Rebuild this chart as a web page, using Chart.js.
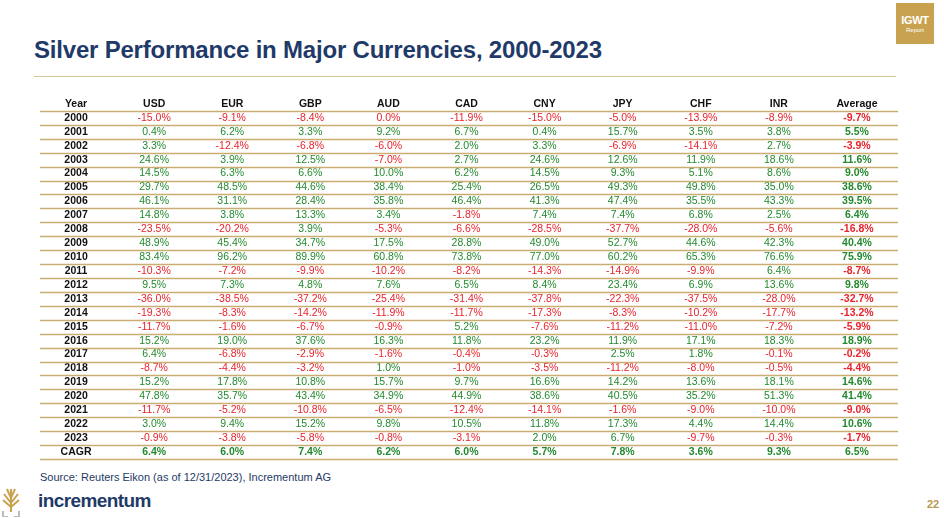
<!DOCTYPE html>
<html><head><meta charset="utf-8">
<script src="https://cdn.jsdelivr.net/npm/chart.js@4.4.1/dist/chart.umd.min.js"></script>
<style>
body{margin:0;width:944px;height:518px;background:#fff;font-family:"Liberation Sans",Arial,sans-serif;position:relative;overflow:hidden}
#title{position:absolute;left:34px;top:36px;font-size:24px;font-weight:bold;color:#1f3a68;letter-spacing:-0.2px}
#rule{position:absolute;left:34px;top:76px;width:862px;height:1px;background:#d8c49a}
#badge{position:absolute;left:896px;top:3px;width:38px;height:41px;background:#c9a24f;color:#fff;text-align:center}
#badge b{display:block;font-size:11px;margin-top:11px;letter-spacing:-0.3px}
#badge span{display:block;font-size:6px;margin-top:1px}
#src{position:absolute;left:40px;top:471px;font-size:11px;color:#1f3a68}
#brand{position:absolute;left:38px;top:490px;font-size:19px;font-weight:bold;color:#1f3a68;letter-spacing:-0.6px}
#page{position:absolute;left:927px;top:498px;font-size:11px;font-weight:bold;color:#b89a4e}
#tree{position:absolute;left:1px;top:488px;width:20px;height:29px}
#wrap{position:absolute;left:0;top:0;width:944px;height:518px}
</style></head><body>
<div id="title">Silver Performance in Major Currencies, 2000-2023</div>
<div id="rule"></div>
<div id="badge"><b>IGWT</b><span>Report</span></div>
<div id="src">Source: Reuters Eikon (as of 12/31/2023), Incrementum AG</div>
<svg id="tree" viewBox="0 0 20 29"><g stroke="#c9a24f" stroke-width="2" fill="none"><path d="M10 24V10M10 15L3 6M10 15L17 6M10 19L2 12M10 19L18 12M10 10L6 1M10 10L14 1M10 10V1"/></g><path d="M1 23h2v5h4v1H1zM17 23h2v6h-6v-1h4z" fill="#bbb"/></svg>
<div id="brand">incrementum</div>
<div id="page">22</div>
<div id="wrap"><canvas id="c"></canvas></div>
<script>
const columns = ['Year','USD','EUR','GBP','AUD','CAD','CNY','JPY','CHF','INR','Average'];
const rows = ['2000','2001','2002','2003','2004','2005','2006','2007','2008','2009','2010','2011','2012','2013','2014','2015','2016','2017','2018','2019','2020','2021','2022','2023','CAGR'];
const USD = [-15.0,0.4,3.3,24.6,14.5,29.7,46.1,14.8,-23.5,48.9,83.4,-10.3,9.5,-36.0,-19.3,-11.7,15.2,6.4,-8.7,15.2,47.8,-11.7,3.0,-0.9,6.4];
const EUR = [-9.1,6.2,-12.4,3.9,6.3,48.5,31.1,3.8,-20.2,45.4,96.2,-7.2,7.3,-38.5,-8.3,-1.6,19.0,-6.8,-4.4,17.8,35.7,-5.2,9.4,-3.8,6.0];
const GBP = [-8.4,3.3,-6.8,12.5,6.6,44.6,28.4,13.3,3.9,34.7,89.9,-9.9,4.8,-37.2,-14.2,-6.7,37.6,-2.9,-3.2,10.8,43.4,-10.8,15.2,-5.8,7.4];
const AUD = [0.0,9.2,-6.0,-7.0,10.0,38.4,35.8,3.4,-5.3,17.5,60.8,-10.2,7.6,-25.4,-11.9,-0.9,16.3,-1.6,1.0,15.7,34.9,-6.5,9.8,-0.8,6.2];
const CAD = [-11.9,6.7,2.0,2.7,6.2,25.4,46.4,-1.8,-6.6,28.8,73.8,-8.2,6.5,-31.4,-11.7,5.2,11.8,-0.4,-1.0,9.7,44.9,-12.4,10.5,-3.1,6.0];
const CNY = [-15.0,0.4,3.3,24.6,14.5,26.5,41.3,7.4,-28.5,49.0,77.0,-14.3,8.4,-37.8,-17.3,-7.6,23.2,-0.3,-3.5,16.6,38.6,-14.1,11.8,2.0,5.7];
const JPY = [-5.0,15.7,-6.9,12.6,9.3,49.3,47.4,7.4,-37.7,52.7,60.2,-14.9,23.4,-22.3,-8.3,-11.2,11.9,2.5,-11.2,14.2,40.5,-1.6,17.3,6.7,7.8];
const CHF = [-13.9,3.5,-14.1,11.9,5.1,49.8,35.5,6.8,-28.0,44.6,65.3,-9.9,6.9,-37.5,-10.2,-11.0,17.1,1.8,-8.0,13.6,35.2,-9.0,4.4,-9.7,3.6];
const INR = [-8.9,3.8,2.7,18.6,8.6,35.0,43.3,2.5,-5.6,42.3,76.6,6.4,13.6,-28.0,-17.7,-7.2,18.3,-0.1,-0.5,18.1,51.3,-10.0,14.4,-0.3,9.3];
const Average = [-9.7,5.5,-3.9,11.6,9.0,38.6,39.5,6.4,-16.8,40.4,75.9,-8.7,9.8,-32.7,-13.2,-5.9,18.9,-0.2,-4.4,14.6,41.4,-9.0,10.6,-1.7,6.5];

const series = {USD,EUR,GBP,AUD,CAD,CNY,JPY,CHF,INR,Average};
const yLabels = ['Year'].concat(rows);
const points = [];
columns.slice(1).forEach(c => series[c].forEach((v, i) => points.push({x: c, y: rows[i], v: v})));

const RED = '#e8232b', GREEN = '#23892f', GOLD = '#c9ad72';

const tablePlugin = {
  id: 'table',
  afterDatasetsDraw(chart) {
    const ctx = chart.ctx, xs = chart.scales.x, ys = chart.scales.y;
    const rowH = ys.getPixelForValue(1) - ys.getPixelForValue(0);
    const left = 40, right = 898;
    ctx.save();
    ctx.textAlign = 'center';
    ctx.textBaseline = 'middle';
    // header
    columns.forEach((c, i) => {
      ctx.font = 'bold 10.5px "Liberation Sans", Arial';
      ctx.fillStyle = '#111';
      ctx.fillText(c, xs.getPixelForValue(i), ys.getPixelForValue(0));
    });
    // row labels
    rows.forEach((r, i) => {
      ctx.font = 'bold 10.5px "Liberation Sans", Arial';
      ctx.fillStyle = '#111';
      ctx.fillText(r, xs.getPixelForValue(0), ys.getPixelForValue(i + 1));
    });
    // cells
    chart.getDatasetMeta(0).data.forEach((el, k) => {
      const p = points[k];
      const bold = p.x === 'Average' || p.y === 'CAGR';
      ctx.font = (bold ? 'bold ' : '') + '10.5px "Liberation Sans", Arial';
      ctx.fillStyle = p.v < 0 ? RED : (p.v === 0 && p.y === '2000' ? RED : GREEN);
      ctx.fillText(p.v.toFixed(1) + '%', el.x, el.y);
    });
    // row rules
    ctx.strokeStyle = GOLD;
    ctx.lineWidth = 1.6;
    for (let i = 0; i < yLabels.length; i++) {
      const y = Math.round(ys.getPixelForValue(i) + rowH / 2) + 0.5;
      ctx.beginPath(); ctx.moveTo(left, y); ctx.lineTo(right, y); ctx.stroke();
    }
    ctx.restore();
  }
};

new Chart(document.getElementById('c'), {
  type: 'line',
  data: {
    datasets: [{
      data: points,
      showLine: false,
      pointRadius: 0
    }]
  },
  options: {
    responsive: true,
    maintainAspectRatio: false,
    animation: false,
    layout: {padding: {left: 37, right: 48, top: 97, bottom: 59}},
    plugins: {legend: {display: false}, tooltip: {enabled: false}},
    scales: {
      x: {type: 'category', labels: columns, offset: true, display: false},
      y: {type: 'category', labels: yLabels, offset: true, display: false}
    }
  },
  plugins: [tablePlugin]
});
</script>
</body></html>
